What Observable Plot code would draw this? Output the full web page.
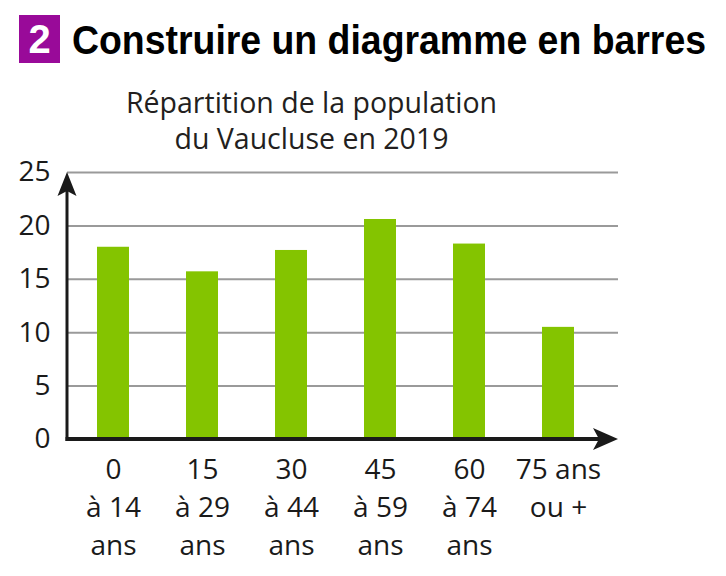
<!DOCTYPE html>
<html lang="fr">
<head>
<meta charset="utf-8">
<script src="https://cdn.jsdelivr.net/npm/d3@7"></script>
<script src="https://cdn.jsdelivr.net/npm/@observablehq/plot@0.6"></script>
<style>
  html, body { margin: 0; padding: 0; background: #fff; width: 726px; height: 576px; overflow: hidden; }
  #box { position: absolute; left: 19px; top: 15px; width: 41px; height: 48px; background: #990a99;
         color: #fff; font: bold 40px "Liberation Sans", sans-serif; text-align: center; line-height: 48px; }
  #title { position: absolute; left: 72px; top: 20px; font: bold 40px "Liberation Sans", sans-serif; line-height: 40px;
           color: #000; white-space: nowrap; transform-origin: 0 0; }
  #subtitle { position: absolute; left: 0; width: 623px; top: 84px; text-align: center;
              font: 28.5px "Open Sans", sans-serif; line-height: 36px; color: #231f20; }
  #chart { position: absolute; left: 0; top: 130px; }
</style>
</head>
<body>
<div id="box">2</div>
<div id="title">Construire un diagramme en barres</div>
<div id="subtitle">Répartition de la population<br>du Vaucluse en 2019</div>
<div id="chart"></div>
<script>
// ---- data ----
const groups = ["0 à 14 ans", "15 à 29 ans", "30 à 44 ans", "45 à 59 ans", "60 à 74 ans", "75 ans ou +"];
const tickLabels = ["0\nà 14\nans", "15\nà 29\nans", "30\nà 44\nans", "45\nà 59\nans", "60\nà 74\nans", "75 ans\nou +"];
const shares = [18.0, 15.7, 17.7, 20.6, 18.3, 10.5];
const yTicks = [0, 5, 10, 15, 20, 25];

const data = groups.map((g, i) => ({group: g, share: shares[i]}));
const ink = "#1a1a1a";

// fit title width
const t = document.getElementById("title");
t.style.transform = `scaleX(${634 / t.getBoundingClientRect().width})`;

function axisArrows(index, scales, values, dimensions) {
  const {y} = scales;
  const {width, marginLeft, marginRight} = dimensions;
  const left = marginLeft, right = width - marginRight;
  const bottom = y(0), top = y(d3.max(yTicks));
  const g = d3.create("svg:g").attr("fill", ink).attr("stroke", ink);
  g.append("line").attr("x1", left).attr("x2", left).attr("y1", bottom + 2).attr("y2", top + 16).attr("stroke-width", 3);
  g.append("line").attr("x1", left - 1.5).attr("x2", right - 16).attr("y1", bottom).attr("y2", bottom).attr("stroke-width", 4);
  g.append("path").attr("stroke", "none")
    .attr("d", `M${left},${top}L${left - 9.5},${top + 24}L${left},${top + 19}L${left + 9.5},${top + 24}Z`);
  g.append("path").attr("stroke", "none")
    .attr("d", `M${right},${bottom}L${right - 25},${bottom - 11}L${right - 19},${bottom}L${right - 25},${bottom + 11}Z`);
  return g.node();
}

const chart = Plot.plot({
  width: 726,
  height: 446,
  marginTop: 42,
  marginBottom: 137,
  marginLeft: 67,
  marginRight: 108,
  style: {fontFamily: "'Open Sans', sans-serif", fontSize: "28px", color: ink, background: "transparent"},
  x: {domain: groups, paddingInner: 0.643, paddingOuter: 0.394, align: 0.408, label: null},
  y: {domain: [0, 25], label: null},
  marks: [
    Plot.gridY(yTicks.filter(d => d > 0), {stroke: "#9a9a9a", strokeOpacity: 1, strokeWidth: 2}),
    Plot.barY(data, {x: "group", y: "share", fill: "#84c400"}),
    Plot.axisY(yTicks, {tickSize: 0, tickPadding: 17, fill: ink, label: null}),
    Plot.axisX({tickSize: 0, tickPadding: 12, lineHeight: 1.36, fill: ink, label: null,
                tickFormat: d => tickLabels[groups.indexOf(d)]}),
    axisArrows
  ]
});
document.getElementById("chart").append(chart);
</script>
</body>
</html>
